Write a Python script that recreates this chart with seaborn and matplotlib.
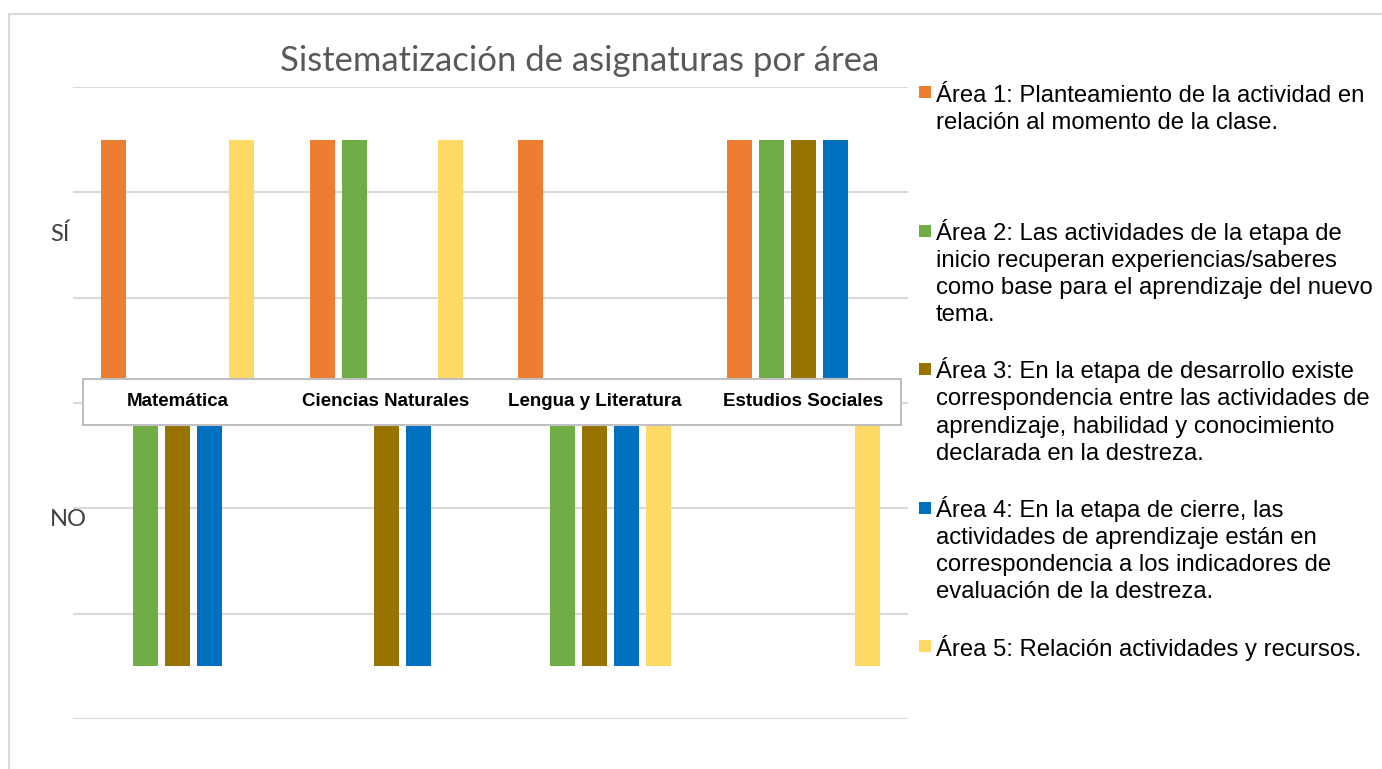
import matplotlib
matplotlib.use("Agg")
import matplotlib.pyplot as plt
import matplotlib.patches as mpatches
import numpy as np
import pandas as pd
import seaborn as sns

# datos del grafico: 1 = SÍ, -1 = NO
asignaturas = ["Matemática", "Ciencias Naturales", "Lengua y Literatura", "Estudios Sociales"]
areas = ["Área 1", "Área 2", "Área 3", "Área 4", "Área 5"]
area1 = [1, 1, 1, 1]
area2 = [-1, 1, -1, 1]
area3 = [-1, -1, -1, 1]
area4 = [-1, -1, -1, 1]
area5 = [1, 1, -1, -1]
colores = ["#ED7D31", "#70AD47", "#997300", "#0070C0", "#FFD966"]
etiquetas_leyenda = [
    "Área 1: Planteamiento de la actividad en\nrelación al momento de la clase.",
    "Área 2: Las actividades de la etapa de\ninicio recuperan experiencias/saberes\ncomo base para el aprendizaje del nuevo\ntema.",
    "Área 3: En la etapa de desarrollo existe\ncorrespondencia entre las actividades de\naprendizaje, habilidad y conocimiento\ndeclarada en la destreza.",
    "Área 4: En la etapa de cierre, las\nactividades de aprendizaje están en\ncorrespondencia a los indicadores de\nevaluación de la destreza.",
    "Área 5: Relación actividades y recursos.",
]

valores = [area1, area2, area3, area4, area5]
df = pd.DataFrame({
    "asignatura": asignaturas * len(areas),
    "area": [a for a in areas for _ in asignaturas],
    "valor": [v for serie in valores for v in serie],
})

sns.set_style("white")
plt.rcParams["font.family"] = ["Liberation Sans", "DejaVu Sans"]

W, H = 1382, 769
def fx(x):
    return x / W
def fy(y):
    return 1 - y / H

fig = plt.figure(figsize=(W / 100, H / 100), dpi=100)
ax = fig.add_axes([fx(73), fy(719), fx(835), 632 / H])

sns.barplot(data=df, x="asignatura", y="valor", hue="area", order=asignaturas,
            hue_order=areas, palette=colores, saturation=1, width=0.766, gap=0.22,
            linewidth=0, legend=False, ax=ax, zorder=3)

ax.set_ylim(-1.2, 1.2)
ax.set_xlim(-0.5, 3.5)
ax.set_yticks(np.arange(-1.2, 1.21, 0.4))
ax.set_yticklabels([])
ax.set_xticks([])
ax.set_xlabel("")
ax.set_ylabel("")
ax.grid(axis="y", color="#d9d9d9", lw=1.5, zorder=0)
ax.set_axisbelow(True)
ax.tick_params(length=0)
for s in ax.spines.values():
    s.set_visible(False)

# caja de etiquetas de categoria sobre el eje cero
caja = mpatches.Rectangle((fx(83), fy(425)), fx(901 - 83), (425 - 379) / H,
                          transform=fig.transFigure, facecolor="white",
                          edgecolor="#c0c0c0", lw=1.5, zorder=5, clip_on=False)
ax.add_patch(caja)
for i, nombre in enumerate(asignaturas):
    ax.text(i, (719 - 401) / 632, nombre, transform=ax.get_xaxis_transform(),
            ha="center", va="center", fontsize=13.5, fontweight="bold",
            color="#000000", zorder=6)

# titulo y etiquetas SÍ / NO
fig.text(fx(580), fy(61), "Sistematización de asignaturas por área",
         ha="center", va="center", fontsize=24.9, color="#595959", family=["Lato", "DejaVu Sans"])
fig.text(fx(50), fy(234), "SÍ", ha="left", va="center", fontsize=17,
         color="#404040", family=["Lato", "DejaVu Sans"])
fig.text(fx(50), fy(520), "NO", ha="left", va="center", fontsize=17,
         color="#404040", family=["Lato", "DejaVu Sans"])

# leyenda a la derecha (cuadro alineado con la primera linea)
paso_linea = 27
for k, (txt, col) in enumerate(zip(etiquetas_leyenda, colores)):
    base = 102 + 138.5 * k
    n = txt.count("\n")
    fig.patches.append(mpatches.Rectangle((fx(919), fy(base - 4)), fx(12), 12 / H,
                                          transform=fig.transFigure, facecolor=col,
                                          edgecolor="none"))
    fig.text(fx(936), fy(base + n * paso_linea), txt, ha="left", va="baseline",
             fontsize=17.2, color="#000000", linespacing=1.31)

# marco exterior
fig.patches.append(mpatches.Rectangle((fx(9), fy(H + 20)), fx(W), (H + 20 - 14) / H,
                                      transform=fig.transFigure, facecolor="none",
                                      edgecolor="#d9d9d9", lw=1.5))

fig.savefig("out.png", dpi=100)
